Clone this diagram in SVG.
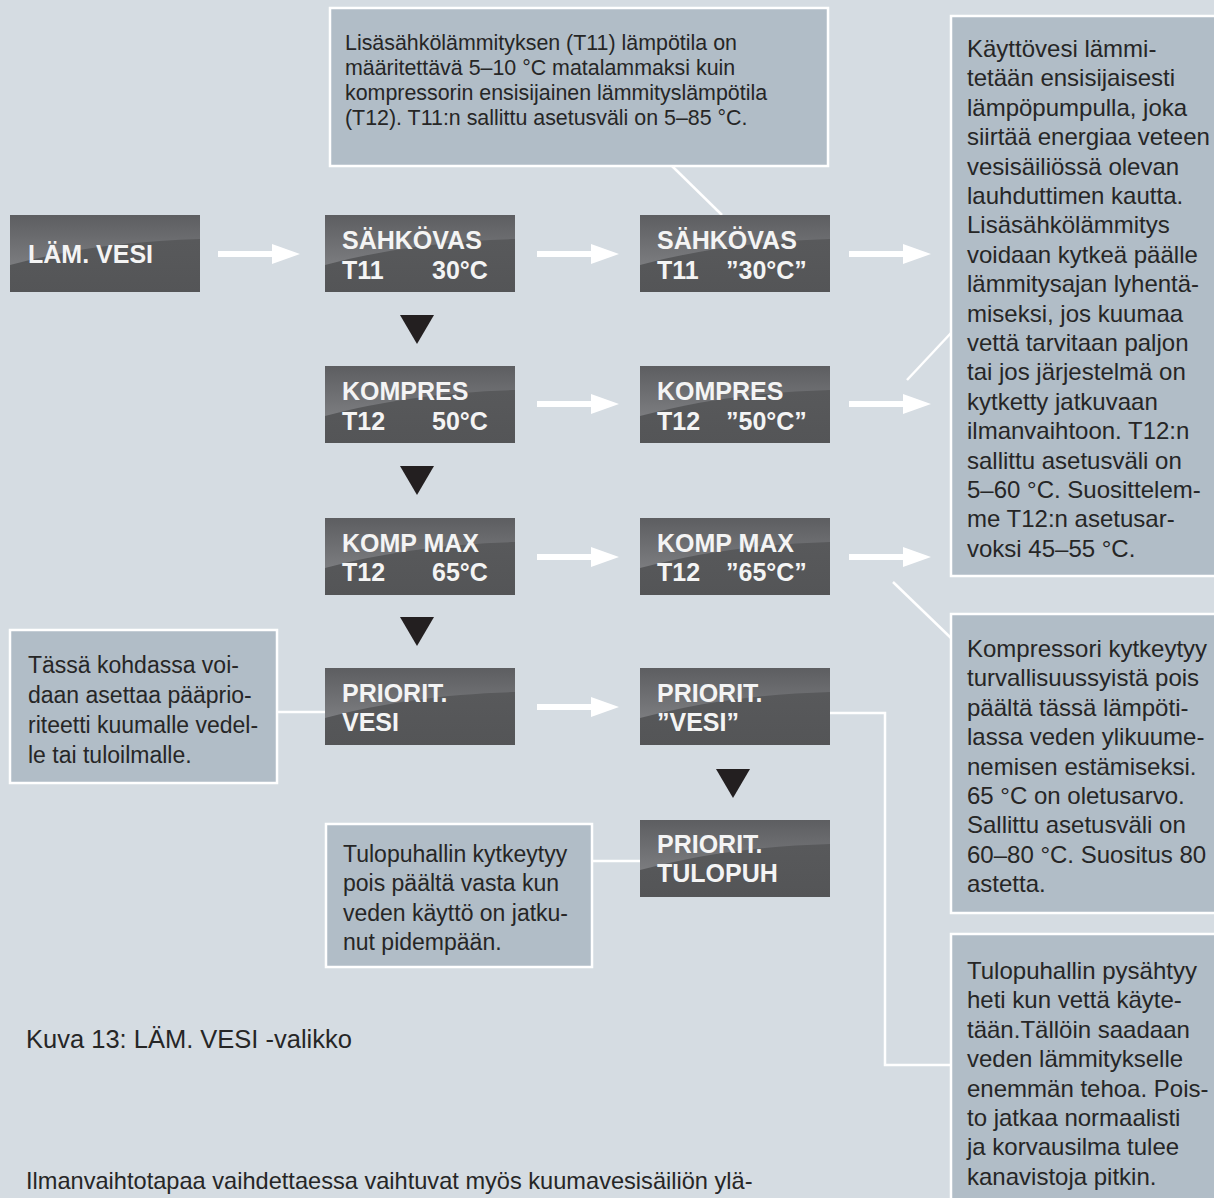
<svg xmlns="http://www.w3.org/2000/svg" xmlns:xlink="http://www.w3.org/1999/xlink" width="1214" height="1198" viewBox="0 0 1214 1198">
<style>
.bg{fill:#d5dce2}
.callout{fill:#b1bdc7;stroke:#ffffff;stroke-width:2.5}
.ct{font-family:"Liberation Sans",Arial,sans-serif;font-size:23px;fill:#262626}
.cr{font-family:"Liberation Sans",Arial,sans-serif;font-size:24px;fill:#262626}
.ctop{font-family:"Liberation Sans",Arial,sans-serif;font-size:21.4px;fill:#262626}
.dt{font-family:"Liberation Sans",Arial,sans-serif;font-size:25px;font-weight:bold;fill:#f4f4f4}
.cap{font-family:"Liberation Sans",Arial,sans-serif;font-size:25.5px;fill:#262626}
.body{font-family:"Liberation Sans",Arial,sans-serif;font-size:23.6px;fill:#262626}
.arrow{fill:#ffffff}
.line{fill:none;stroke:#ffffff;stroke-width:2.5}
.tri{fill:#231f20}
</style>
<defs>
<linearGradient id="hl" x1="0" y1="0" x2="0" y2="1">
<stop offset="0" stop-color="#5d5e61"/>
<stop offset="1" stop-color="#7b7c7f"/>
</linearGradient>
<linearGradient id="base" x1="0" y1="0" x2="0" y2="1">
<stop offset="0" stop-color="#5a5b5d"/>
<stop offset="1" stop-color="#545557"/>
</linearGradient>
<g id="dbox">
<rect x="0" y="0" width="190" height="77" fill="url(#base)"/>
<path d="M0,0 H190 V24 C120,26 60,34 0,50 Z" fill="url(#hl)"/>
</g>
</defs>
<rect class="bg" x="0" y="0" width="1214" height="1198"/>

<g id="connectors">
<polygon class="arrow" points="218,251 272,251 272,244 300,254 272,264 272,257 218,257"/>
<polygon class="arrow" points="537,251 591,251 591,244 619,254 591,264 591,257 537,257"/>
<polygon class="arrow" points="537,401 591,401 591,394 619,404 591,414 591,407 537,407"/>
<polygon class="arrow" points="537,554 591,554 591,547 619,557 591,567 591,560 537,560"/>
<polygon class="arrow" points="537,704 591,704 591,697 619,707 591,717 591,710 537,710"/>
<polygon class="arrow" points="849,251 903,251 903,244 931,254 903,264 903,257 849,257"/>
<polygon class="arrow" points="849,401 903,401 903,394 931,404 903,414 903,407 849,407"/>
<polygon class="arrow" points="849,554 903,554 903,547 931,557 903,567 903,560 849,560"/>
<polygon class="tri" points="400,315 434,315 417,344"/>
<polygon class="tri" points="400,466 434,466 417,495"/>
<polygon class="tri" points="400,617 434,617 417,646"/>
<polygon class="tri" points="716,769 750,769 733,798"/>
<line class="line" x1="672" y1="166" x2="722" y2="215"/>
<line class="line" x1="907" y1="380" x2="951" y2="333"/>
<line class="line" x1="893" y1="582" x2="951" y2="638"/>
<polyline class="line" points="830,713 885,713 885,1065 951,1065"/>
<line class="line" x1="277" y1="712" x2="325" y2="712"/>
<line class="line" x1="592" y1="861" x2="640" y2="861"/>
</g>

<g id="node-lam-vesi">
<use href="#dbox" x="10" y="215"/>
<text class="dt" x="28" y="263">LÄM. VESI</text>
</g>
<g id="node-sahkovas">
<use href="#dbox" x="325" y="215"/>
<text class="dt" x="342" y="249">SÄHKÖVAS</text>
<text class="dt" x="342" y="279">T11</text>
<text class="dt" x="432" y="279">30°C</text>
</g>
<g id="node-sahkovas-edit">
<use href="#dbox" x="640" y="215"/>
<text class="dt" x="657" y="249">SÄHKÖVAS</text>
<text class="dt" x="657" y="279">T11</text>
<text class="dt" x="726" y="279">”30°C”</text>
</g>
<g id="node-kompres">
<use href="#dbox" x="325" y="366"/>
<text class="dt" x="342" y="400">KOMPRES</text>
<text class="dt" x="342" y="430">T12</text>
<text class="dt" x="432" y="430">50°C</text>
</g>
<g id="node-kompres-edit">
<use href="#dbox" x="640" y="366"/>
<text class="dt" x="657" y="400">KOMPRES</text>
<text class="dt" x="657" y="430">T12</text>
<text class="dt" x="726" y="430">”50°C”</text>
</g>
<g id="node-kompmax">
<use href="#dbox" x="325" y="518"/>
<text class="dt" x="342" y="552">KOMP MAX</text>
<text class="dt" x="342" y="581">T12</text>
<text class="dt" x="432" y="581">65°C</text>
</g>
<g id="node-kompmax-edit">
<use href="#dbox" x="640" y="518"/>
<text class="dt" x="657" y="552">KOMP MAX</text>
<text class="dt" x="657" y="581">T12</text>
<text class="dt" x="726" y="581">”65°C”</text>
</g>
<g id="node-priorit">
<use href="#dbox" x="325" y="668"/>
<text class="dt" x="342" y="702">PRIORIT.</text>
<text class="dt" x="342" y="731">VESI</text>
</g>
<g id="node-priorit-edit">
<use href="#dbox" x="640" y="668"/>
<text class="dt" x="657" y="702">PRIORIT.</text>
<text class="dt" x="657" y="731">”VESI”</text>
</g>
<g id="node-priorit-tulopuh">
<use href="#dbox" x="640" y="820"/>
<text class="dt" x="657" y="853">PRIORIT.</text>
<text class="dt" x="657" y="882">TULOPUH</text>
</g>

<g id="note-t11">
<rect class="callout" x="330" y="8" width="498" height="158"/>
<text class="ctop" x="345" y="50">Lisäsähkölämmityksen (T11) lämpötila on</text>
<text class="ctop" x="345" y="75">määritettävä 5–10 °C matalammaksi kuin</text>
<text class="ctop" x="345" y="100">kompressorin ensisijainen lämmityslämpötila</text>
<text class="ctop" x="345" y="125">(T12). T11:n sallittu asetusväli on 5–85 °C.</text>
</g>
<g id="note-kayttovesi">
<rect class="callout" x="951" y="16" width="280" height="560"/>
<text class="cr" x="967" y="57">Käyttövesi lämmi-</text>
<text class="cr" x="967" y="86.4">tetään ensisijaisesti</text>
<text class="cr" x="967" y="115.8">lämpöpumpulla, joka</text>
<text class="cr" x="967" y="145.2">siirtää energiaa veteen</text>
<text class="cr" x="967" y="174.6">vesisäiliössä olevan</text>
<text class="cr" x="967" y="204">lauhduttimen kautta.</text>
<text class="cr" x="967" y="233.4">Lisäsähkölämmitys</text>
<text class="cr" x="967" y="262.8">voidaan kytkeä päälle</text>
<text class="cr" x="967" y="292.2">lämmitysajan lyhentä-</text>
<text class="cr" x="967" y="321.6">miseksi, jos kuumaa</text>
<text class="cr" x="967" y="351">vettä tarvitaan paljon</text>
<text class="cr" x="967" y="380.4">tai jos järjestelmä on</text>
<text class="cr" x="967" y="409.8">kytketty jatkuvaan</text>
<text class="cr" x="967" y="439.2">ilmanvaihtoon. T12:n</text>
<text class="cr" x="967" y="468.6">sallittu asetusväli on</text>
<text class="cr" x="967" y="498">5–60 °C. Suosittelem-</text>
<text class="cr" x="967" y="527.4">me T12:n asetusar-</text>
<text class="cr" x="967" y="556.8">voksi 45–55 °C.</text>
</g>
<g id="note-kompressori">
<rect class="callout" x="951" y="614" width="280" height="299"/>
<text class="cr" x="967" y="657">Kompressori kytkeytyy</text>
<text class="cr" x="967" y="686.4">turvallisuussyistä pois</text>
<text class="cr" x="967" y="715.8">päältä tässä lämpöti-</text>
<text class="cr" x="967" y="745.2">lassa veden ylikuume-</text>
<text class="cr" x="967" y="774.6">nemisen estämiseksi.</text>
<text class="cr" x="967" y="804">65 °C on oletusarvo.</text>
<text class="cr" x="967" y="833.4">Sallittu asetusväli on</text>
<text class="cr" x="967" y="862.8">60–80 °C. Suositus 80</text>
<text class="cr" x="967" y="892.2">astetta.</text>
</g>
<g id="note-tulopuhallin-pysahtyy">
<rect class="callout" x="951" y="934" width="280" height="280"/>
<text class="cr" x="967" y="979">Tulopuhallin pysähtyy</text>
<text class="cr" x="967" y="1008.4">heti kun vettä käyte-</text>
<text class="cr" x="967" y="1037.8">tään.Tällöin saadaan</text>
<text class="cr" x="967" y="1067.2">veden lämmitykselle</text>
<text class="cr" x="967" y="1096.6">enemmän tehoa. Pois-</text>
<text class="cr" x="967" y="1126">to jatkaa normaalisti</text>
<text class="cr" x="967" y="1155.4">ja korvausilma tulee</text>
<text class="cr" x="967" y="1184.8">kanavistoja pitkin.</text>
</g>
<g id="note-paaprioriteetti">
<rect class="callout" x="10" y="630" width="267" height="153"/>
<text class="ct" x="28" y="673">Tässä kohdassa voi-</text>
<text class="ct" x="28" y="703">daan asettaa pääprio-</text>
<text class="ct" x="28" y="733">riteetti kuumalle vedel-</text>
<text class="ct" x="28" y="763">le tai tuloilmalle.</text>
</g>
<g id="note-tulopuhallin-kytkeytyy">
<rect class="callout" x="326" y="824" width="266" height="143"/>
<text class="ct" x="343" y="862">Tulopuhallin kytkeytyy</text>
<text class="ct" x="343" y="891.3">pois päältä vasta kun</text>
<text class="ct" x="343" y="920.6">veden käyttö on jatku-</text>
<text class="ct" x="343" y="950">nut pidempään.</text>
</g>

<text class="cap" x="26" y="1048">Kuva 13: LÄM. VESI -valikko</text>
<text class="body" x="26" y="1189">Ilmanvaihtotapaa vaihdettaessa vaihtuvat myös kuumavesisäiliön ylä-</text>
</svg>
